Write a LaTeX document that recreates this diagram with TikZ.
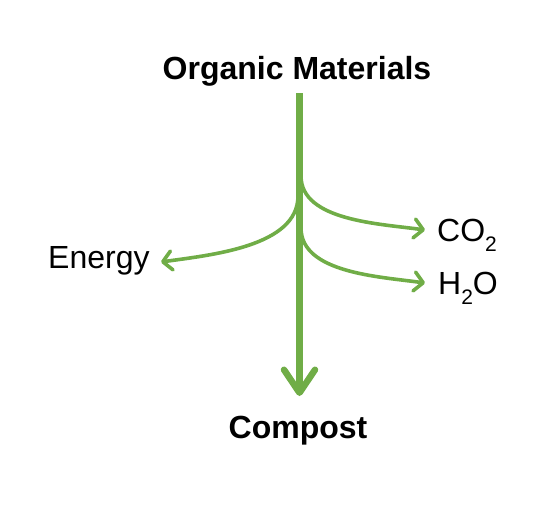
\documentclass[tikz,border=0pt]{standalone}
\usepackage{fontspec}
\setmainfont{Liberation Sans}
\usetikzlibrary{arrows.meta}
\definecolor{leafgreen}{HTML}{70AD47}
\newcommand{\subtwo}{\raisebox{-0.32em}{\fontsize{21}{24}\selectfont 2}}

\begin{document}
\begin{tikzpicture}[x=1pt,y=-1pt,
    big label/.style={font=\fontsize{32}{38}\selectfont\bfseries,inner sep=0pt,anchor=base},
    side label/.style={font=\fontsize{32}{38}\selectfont,inner sep=0pt,anchor=base west},
    trunk/.style={line width=6.5pt,color=leafgreen,-{Straight Barb[length=23pt,width=31pt,round]}},
    branch/.style={line width=3.6pt,color=leafgreen,-{Straight Barb[length=9pt,width=19pt,round]}}]
   \useasboundingbox (0,0) rectangle (559,511);
     \node[big label] (organic) at (297,79) {Organic Materials};
     \node[big label] (compost) at (298,438) {Compost};
     \node[side label] (energy) at (48,268) {Energy};
     \node[side label] (co2) at (437,241) {CO\subtwo};
     \node[side label] (h2o) at (438,294) {H\subtwo O};
     % points on the stem
     \coordinate (top) at (299.5,93);
     \coordinate (bottom) at (299.5,396);
     \coordinate (splitE) at (298,196);
     \coordinate (splitC) at (301,176);
     \coordinate (splitH) at (301,228);
     % arrow tips
     \coordinate (tipE) at (161,262);
     \coordinate (tipC) at (425,230);
     \coordinate (tipH) at (425,283);
      \path[trunk] (top) edge (bottom);
      \path[branch] (splitE) edge[out=-90,in=8,looseness=0.85] (tipE);
      \path[branch] (splitC) edge[out=-90,in=172,looseness=0.85] (tipC);
      \path[branch] (splitH) edge[out=-90,in=172,looseness=0.85] (tipH);
  \end{tikzpicture}
\end{document}
